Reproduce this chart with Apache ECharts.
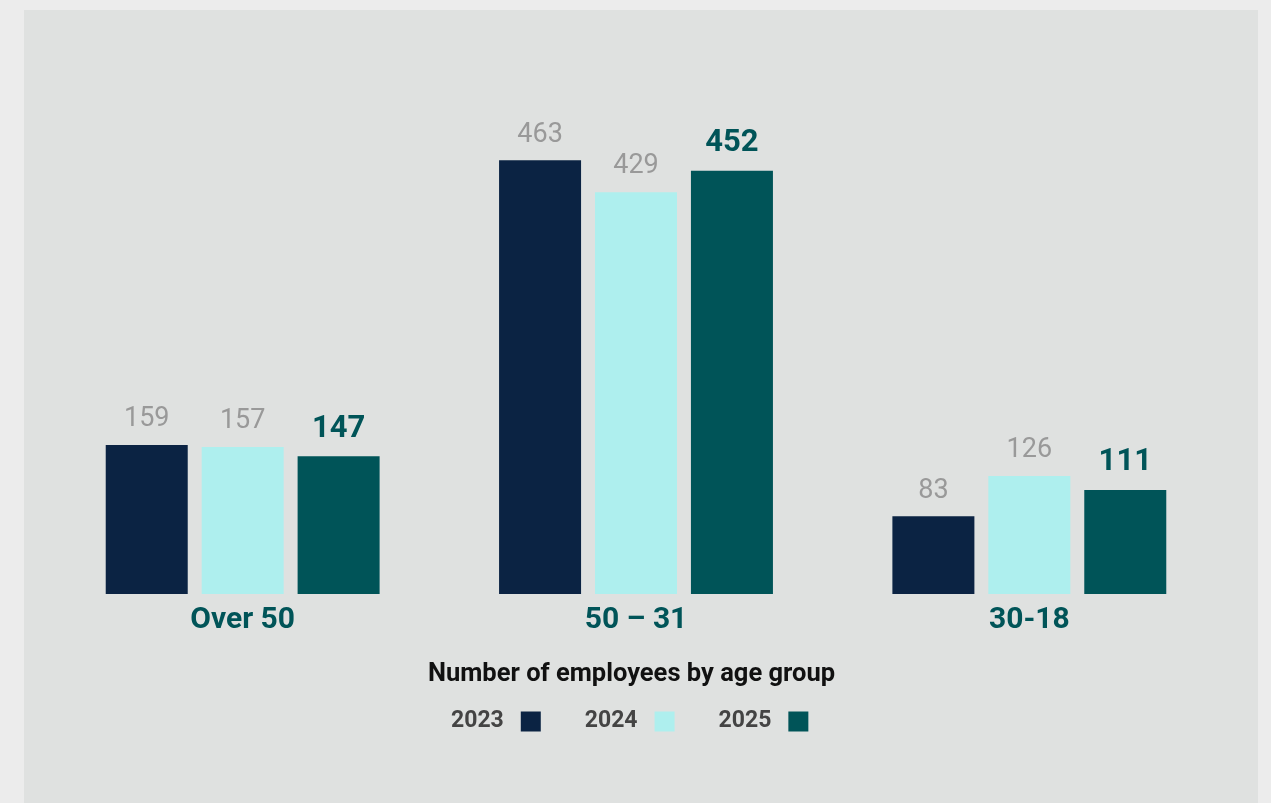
<!DOCTYPE html>
<html>
<head>
<meta charset="utf-8">
<script src="https://cdn.jsdelivr.net/npm/echarts@6/dist/echarts.min.js"></script>
<style>
html,body{margin:0;padding:0;background:#ececec;}
#chart{width:1271px;height:803px;}
</style>
</head>
<body>
<div id="chart"></div>
<script>
const categories = ['Over 50', '50 – 31', '30-18'];
const years = ['2023', '2024', '2025'];
const values2023 = [159, 463, 83];
const values2024 = [157, 429, 126];
const values2025 = [147, 452, 111];
const titleText = 'Number of employees by age group';

const colors = ['#0b2343', '#aeefee', '#005458'];
const seriesData = [values2023, values2024, values2025];

const chart = echarts.init(document.getElementById('chart'));
const series = years.map((y, i) => ({
  name: y,
  type: 'bar',
  data: seriesData[i],
  barWidth: 82,
  barGap: '17%',
  itemStyle: { color: colors[i] },
  label: {
    show: true,
    position: 'top',
    distance: 12,
    fontFamily: 'Roboto',
    fontSize: i === 2 ? 31 : 27,
    fontWeight: i === 2 ? 'bold' : 'normal',
    color: i === 2 ? '#005458' : '#999999'
  }
}));

chart.setOption({
  backgroundColor: '#ececec',
  animation: false,
  graphic: [{
    type: 'rect',
    z: -10,
    shape: { x: 24, y: 10, width: 1234, height: 800 },
    style: { fill: '#dfe1e0' }
  }],
  title: {
    text: titleText,
    left: 423,
    top: 657,
    textStyle: { fontFamily: 'Roboto', fontSize: 25.5, fontWeight: 'bold', color: '#111111' }
  },
  legend: {
    data: years,
    left: 446,
    top: 705,
    align: 'right',
    itemWidth: 20,
    itemHeight: 20,
    itemGap: 44,
    icon: 'rect',
    textStyle: { fontFamily: 'Roboto', fontSize: 23, fontWeight: 'bold', color: '#444444', padding: [0, 12, 0, 0] }
  },
  grid: { left: 46, right: 45, top: 121, bottom: 209, containLabel: false },
  xAxis: {
    type: 'category',
    data: categories,
    axisLine: { show: false },
    axisTick: { show: false },
    axisLabel: { fontFamily: 'Roboto', fontSize: 30, fontWeight: 'bold', color: '#005458', margin: 11 }
  },
  yAxis: {
    type: 'value',
    min: 0,
    max: 505,
    show: false,
    splitLine: { show: false }
  },
  series: series
});
</script>
</body>
</html>
